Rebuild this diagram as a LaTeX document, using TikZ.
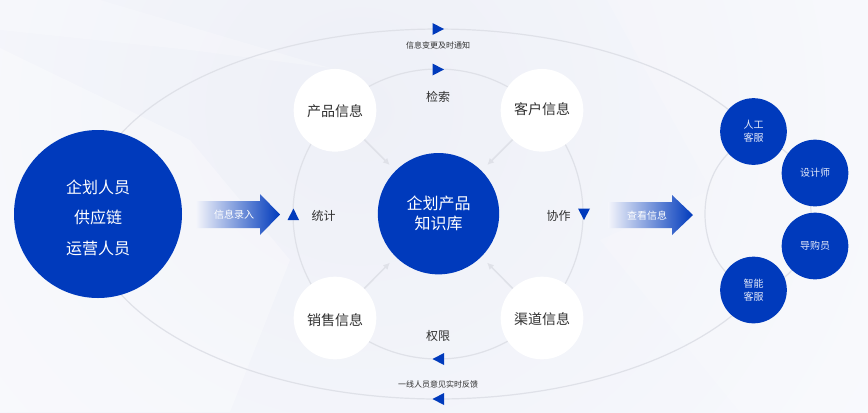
\documentclass[tikz,border=0pt]{standalone}
\usepackage{fontspec}
\setmainfont{Noto Sans CJK SC}
\usetikzlibrary{arrows.meta,shadings}
\definecolor{brandblue}{HTML}{003ABC}
\definecolor{ringgray}{HTML}{DFE1E8}
\definecolor{bgcore}{HTML}{EEF0F7}
\definecolor{bgouter}{HTML}{F8F9FD}
\definecolor{bgflow}{HTML}{F4F5FB}
\definecolor{txtdark}{HTML}{303030}
\definecolor{palewhite}{HTML}{E4EAFA}
\newcommand{\nudged}[2]{\raisebox{#1}[8pt][0pt]{#2}}
\tikzset{
  x=0.75pt,y=-0.75pt,
  ring/.style={draw=ringgray,line width=0.9pt},
  white disc/.style={circle,fill=white,minimum size=62pt,inner sep=0pt,text=txtdark,font=\fontsize{10.5pt}{13pt}\selectfont},
  small disc/.style={circle,fill=brandblue,minimum size=50pt,inner sep=0pt,text=palewhite,align=center,font=\fontsize{7.5pt}{10pt}\selectfont},
  lbl/.style={text=txtdark,inner sep=0pt,font=\fontsize{9pt}{11pt}\selectfont},
  tiny lbl/.style={text=txtdark,inner sep=0pt,font=\fontsize{6pt}{8pt}\selectfont},
  flow lbl/.style={text=white,inner sep=0pt,font=\fontsize{7.5pt}{9pt}\selectfont},
  big lbl/.style={text=white,inner sep=0pt,font=\fontsize{12pt}{15pt}\selectfont},
  to center/.style={draw=ringgray,line width=1.1pt,-{Latex[length=5pt,width=5pt]},shorten >=6pt},
  blue tip/.style={fill=brandblue,draw=none},
  band/.style={fill=white,draw=none},
}
\begin{document}
\begin{tikzpicture}
\useasboundingbox (0,0) rectangle (868,412);
\begin{scope}
\clip (0,0) rectangle (868,412);
\fill[bgouter] (0,0) rectangle (868,412);
\shade[inner color=bgcore,outer color=bgouter] (360,110) circle [radius=620];
% soft background bands
\fill[band,opacity=.30] (0,48) -- (190,140) -- (290,260) -- (230,412) -- (0,412) -- cycle;
\fill[band,opacity=.18] (607,0) -- (868,0) -- (868,412) -- (740,412) -- (600,240) -- (711,190) -- cycle;
\fill[band,opacity=.22] (0,0) -- (100,0) -- (330,68) -- (190,50) -- (0,30) -- cycle;
\end{scope}
% rings
\coordinate (hub) at (438,214);
\coordinate (staffhub) at (758,214);
\draw[ring] plot [domain=26:334,samples=160] ({438+352*cos(\x)},{214+185*sin(\x)});
\draw[ring] (hub) circle [radius=145];
\draw[ring] (staffhub) ellipse [x radius=53,y radius=73];
% nodes
\node[circle,fill=brandblue,minimum size=126pt,inner sep=0pt] (roles) at (98,214) {};
\node[big lbl] at (98,187.5) {企划人员};
\node[big lbl] at (98,217.5) {供应链};
\node[big lbl] at (98,248.5) {运营人员};
\node[circle,fill=brandblue,minimum size=91pt,inner sep=0pt,big lbl,align=center] (core) at (438.5,213.7) {企划产品\\知识库};
\node[white disc] (prod) at (335,110.3) {\nudged{-0.5pt}{产品信息}};
\node[white disc] (cust) at (542,110.3) {\nudged{0.75pt}{客户信息}};
\node[white disc] (sale) at (335,318) {\nudged{-1.5pt}{销售信息}};
\node[white disc] (chan) at (542,318) {\nudged{-0.75pt}{渠道信息}};
\draw[to center] (prod) -- (core);
\draw[to center] (cust) -- (core);
\draw[to center] (sale) -- (core);
\draw[to center] (chan) -- (core);
\node[small disc] (human) at (753.5,131.5) {人工\\客服};
\node[small disc] (design) at (815,173) {设计师};
\node[small disc] (guide) at (815,246) {导购员};
\node[small disc] (smart) at (753.5,290) {智能\\客服};
% labels
\node[tiny lbl] at (438,45.5) {信息变更及时通知};
\node[tiny lbl] at (438,384.5) {一线人员意见实时反馈};
\node[lbl] at (438,97) {检索};
\node[lbl] at (438,335.5) {权限};
\node[lbl] at (323.5,215.5) {统计};
\node[lbl] at (558.5,215.5) {协作};
% small direction tips
\fill[blue tip] (432.5,23) -- (444,29) -- (432.5,35) -- cycle;
\fill[blue tip] (432.5,63.5) -- (444,69.5) -- (432.5,75.5) -- cycle;
\fill[blue tip] (287.5,220) -- (293.5,208.5) -- (299,220) -- cycle;
\fill[blue tip] (578,208.5) -- (584,220) -- (590,208.5) -- cycle;
\fill[blue tip] (444,353) -- (432.5,359) -- (444,365) -- cycle;
\fill[blue tip] (444,393) -- (432.5,399) -- (444,405) -- cycle;
% flow arrows
\shade[left color=bgflow,right color=brandblue]
  (196,201) -- (260,201) -- (260,194) -- (280,214.5) -- (260,235) -- (260,228) -- (196,228) -- cycle;
\node[flow lbl] at (234,214.5) {信息录入};
\shade[left color=bgflow,right color=brandblue]
  (608,202) -- (672,202) -- (672,195) -- (693,215) -- (672,235) -- (672,228) -- (608,228) -- cycle;
\node[flow lbl] at (647,215.5) {查看信息};
\end{tikzpicture}
\end{document}
